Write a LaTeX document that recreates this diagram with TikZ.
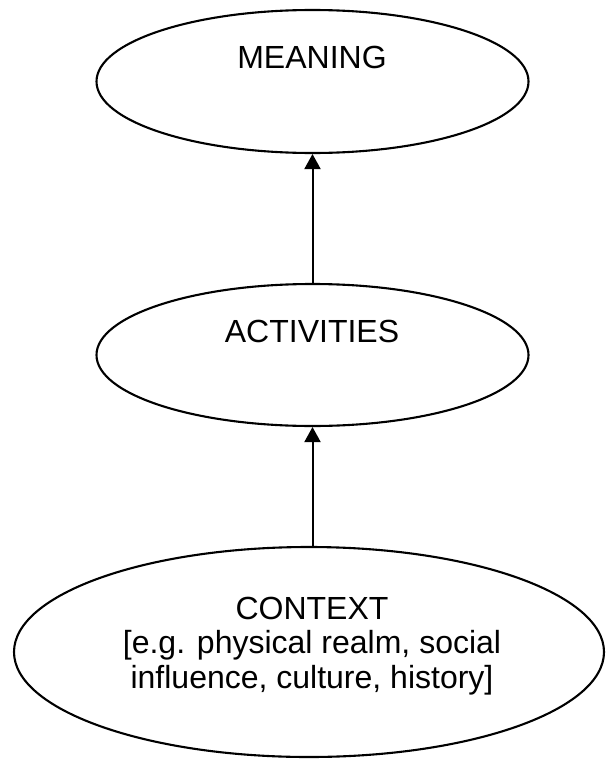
\documentclass[tikz,border=0pt]{standalone}
\usepackage{fontspec}
\setmainfont{Liberation Sans}
\usetikzlibrary{shapes.geometric,arrows.meta}
\begin{document}
\begin{tikzpicture}[x=1pt,y=-1pt,
  oval/.style={draw=black,line width=2.1pt,ellipse,inner sep=0pt},
  caption/.style={anchor=base,align=center,inner sep=0pt,
    font=\fontsize{32}{34.5}\selectfont},
  uparrow/.style={line width=2pt,-{Triangle[width=16pt,length=15pt]}}]
\useasboundingbox (0,0) rectangle (605,760);
% three levels, bottom to top
\node[oval,minimum width=432pt,minimum height=143pt] (m) at (312.5,81.5) {};
\node[oval,minimum width=432pt,minimum height=142pt] (a) at (312.5,355) {};
\node[oval,minimum width=590pt,minimum height=210pt] (c) at (309,652) {};
\node[caption] (mt) at (312,69) {MEANING};
\node[caption] (at) at (312,342) {ACTIVITIES};
% the base anchor of a multi-line node sits on its last line
\node[caption] (ct) at (312,688) {CONTEXT\\{[e.g. physical realm, social}\\influence, culture, history]};
% arrows run upward between the ovals
\draw[uparrow] (a.north) -- (m.south);
\draw[uparrow] (a.south |- c.north) -- (a.south);
\end{tikzpicture}
\end{document}
